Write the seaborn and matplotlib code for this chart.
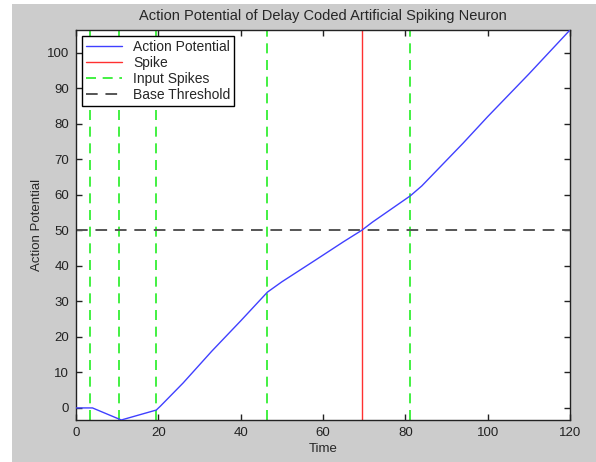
import matplotlib
matplotlib.use('Agg')
import matplotlib.pyplot as plt
import matplotlib.patches as mpatches
import seaborn as sns
import pandas as pd

# action potential trace
time_vals = [0, 4, 11, 19.5, 20.5, 26, 33, 40, 46.5, 50, 58, 65, 69.4, 72, 81.2, 84, 88, 94, 100, 110, 120]
potential_vals = [0, 0, -3.4, -0.6, 0.5, 7, 16, 24.5, 32.6, 35.5, 41.5, 46.8, 50, 52.3, 59.7, 62.5, 67.3, 74.5, 82, 94, 106.4]

input_spikes = [3.3, 10.4, 19.4, 46.5, 81.2]
spike_time = 69.4
base_threshold = 50

x_ticks = [0, 20, 40, 60, 80, 100, 120]
y_ticks = [0, 10, 20, 30, 40, 50, 60, 70, 80, 90, 100]

df = pd.DataFrame({'Time': time_vals, 'Action Potential': potential_vals})

sns.set_style('ticks')
plt.rcParams['font.family'] = ['Liberation Sans', 'DejaVu Sans']

fig = plt.figure(figsize=(5.96, 4.62), dpi=100)
fig.patch.set_facecolor('white')
# grey matlab-style background
fig.patches.append(mpatches.Rectangle((12 / 596, 0), 1 - 12 / 596, 458 / 462,
                                      transform=fig.transFigure, facecolor='#cccccc',
                                      edgecolor='none', zorder=-10))

ax = fig.add_axes([76 / 596, 42 / 462, 494 / 596, 390 / 462])
ax.set_facecolor('white')

sns.lineplot(data=df, x='Time', y='Action Potential', ax=ax, color='#4040ff',
             linewidth=1.0, label='Action Potential', zorder=3)
ax.axvline(spike_time, color='#ff3030', linewidth=1.0, label='Spike')
for i, t in enumerate(input_spikes):
    ax.axvline(t, color='#22ee22', linestyle=(0, (6, 4)), linewidth=1.2,
               label='Input Spikes' if i == 0 else None)
ax.axhline(base_threshold, color='#555555', linestyle=(0, (6, 4)), linewidth=1.4,
           label='Base Threshold')

ax.set_xlim(0, 120)
ax.set_ylim(-3.4, 106.4)
ax.set_xticks(x_ticks)
ax.set_yticks(y_ticks)
ax.tick_params(direction='in', top=True, right=True, length=4, width=1,
               labelsize=9.5, colors='#222222', pad=5)
for s in ax.spines.values():
    s.set_visible(True)
    s.set_color('#222222')
    s.set_linewidth(1.0)

ax.set_xlabel('Time', fontsize=9.5, labelpad=3)
ax.set_ylabel('Action Potential', fontsize=9.5, labelpad=3)
ax.set_title('Action Potential of Delay Coded Artificial Spiking Neuron', fontsize=10.5, pad=7)

leg = ax.legend(loc='upper left', fontsize=10, frameon=True, fancybox=False,
                edgecolor='black', framealpha=1, borderpad=0.3, labelspacing=0.15,
                handlelength=2.6, borderaxespad=0.4)
leg.get_frame().set_linewidth(1.0)

fig.savefig('out.png', dpi=100)
